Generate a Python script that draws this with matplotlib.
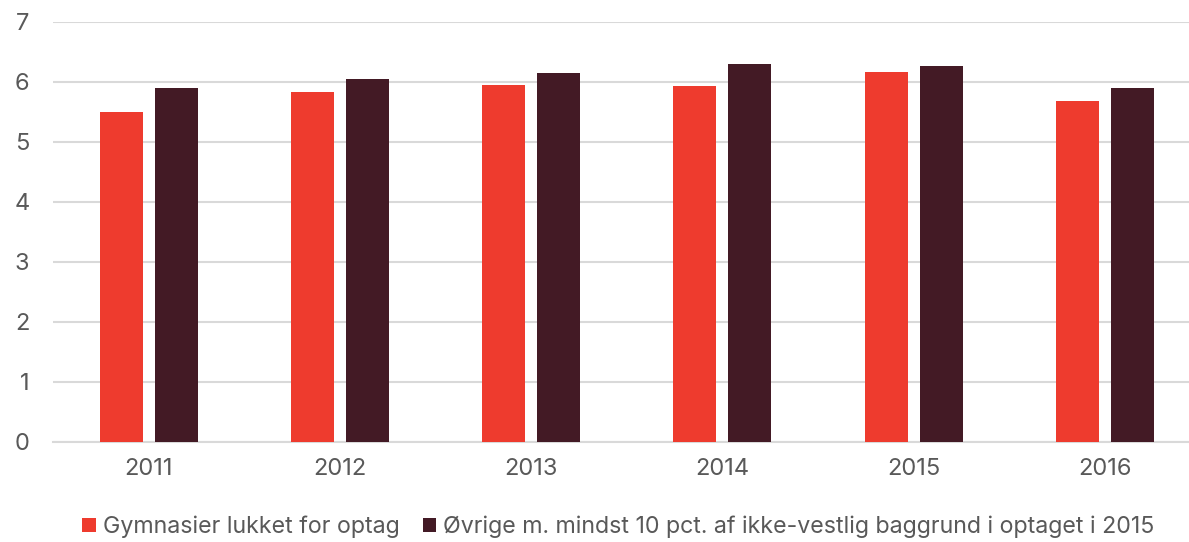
import matplotlib
matplotlib.use("Agg")
import matplotlib.pyplot as plt
import numpy as np

years = ["2011", "2012", "2013", "2014", "2015", "2016"]
closed = [5.49, 5.82, 5.94, 5.92, 6.16, 5.67]
others = [5.89, 6.04, 6.14, 6.30, 6.26, 5.89]
series_names = ["Gymnasier lukket for optag",
                "Øvrige m. mindst 10 pct. af ikke-vestlig baggrund i optaget i 2015"]
colors = ["#EE3B2E", "#431A25"]

plt.rcParams['font.family'] = ['Inter', 'DejaVu Sans']

fig = plt.figure(figsize=(11.89, 5.42), dpi=100)
ax = fig.add_axes([0.0446, 0.185, 0.9554, 0.775])

x = np.arange(len(years))
w = 0.225
off = 0.144
ax.bar(x - off, closed, w, color=colors[0], label=series_names[0], zorder=3)
ax.bar(x + off, others, w, color=colors[1], label=series_names[1], zorder=3)

ax.set_ylim(0, 7)
ax.set_xlim(-0.5, 5.44)
ax.set_yticks(range(0, 8))
ax.set_xticks(x)
ax.set_xticklabels(years)
ax.yaxis.grid(True, color="#d9d9d9", linewidth=1.5, zorder=0)
ax.set_axisbelow(True)
for s in ["top", "right", "left"]:
    ax.spines[s].set_visible(False)
ax.spines["bottom"].set_color("#d9d9d9")
ax.spines["bottom"].set_linewidth(1.5)
ax.tick_params(axis="both", length=0, labelsize=17, colors="#595959")
ax.tick_params(axis="x", pad=12)
ax.tick_params(axis="y", pad=17)

leg = fig.legend(loc="center", bbox_to_anchor=(0.52, 0.028), ncol=2, frameon=False,
                 fontsize=16.7, handlelength=0.6, handleheight=0.6, handletextpad=0.3,
                 columnspacing=1.0, labelcolor="#595959")
fig.savefig("out.png", dpi=100)
